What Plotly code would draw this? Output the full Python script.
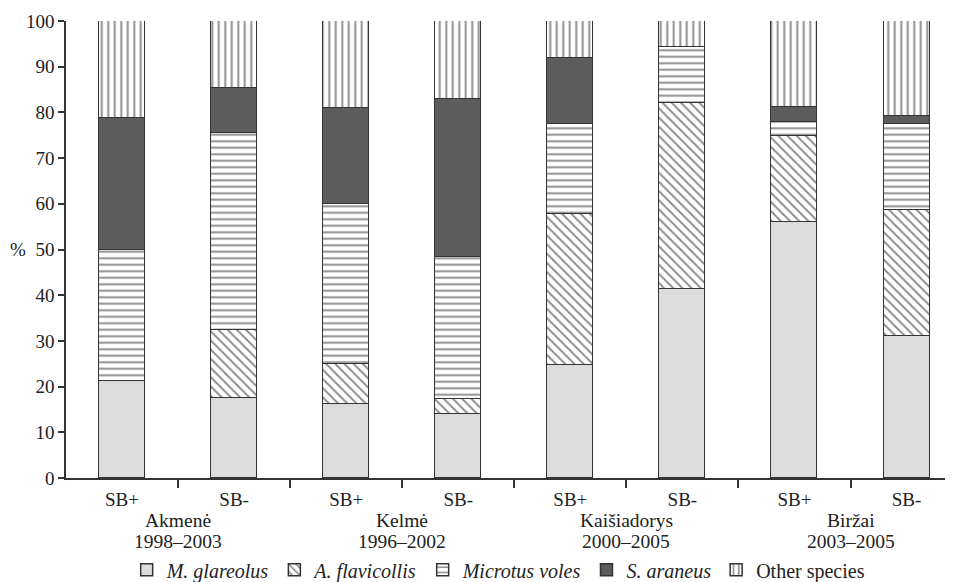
import plotly.graph_objects as go

bar_labels = ["SB+", "SB-", "SB+", "SB-", "SB+", "SB-", "SB+", "SB-"]
region_names = ["Akmenė", "Kelmė", "Kaišiadorys", "Biržai"]
region_years = ["1998–2003", "1996–2002", "2000–2005", "2003–2005"]

m_glareolus   = [21.3, 17.6, 16.1, 13.9, 24.8, 41.4, 56.1, 31.0]
a_flavicollis = [0.0, 14.7, 8.8, 3.4, 32.9, 40.7, 18.8, 27.7]
microtus      = [28.5, 43.2, 35.0, 31.0, 19.7, 12.3, 3.1, 18.7]
s_araneus     = [28.9, 9.8, 21.0, 34.6, 14.4, 0.0, 3.1, 1.8]
other         = [21.3, 14.7, 19.1, 17.1, 8.2, 5.6, 18.9, 20.8]

x = list(range(len(bar_labels)))
FONT = "Liberation Serif"
EDGE = "#333333"
FS = 19

series = [
    ("<i>M. glareolus</i>", m_glareolus, "#dcdcdc", ""),
    ("<i>A. flavicollis</i>", a_flavicollis, "white", "\\"),
    ("<i>Microtus voles</i>", microtus, "white", "-"),
    ("<i>S. araneus</i>", s_araneus, "#5c5c5c", ""),
    ("Other species", other, "white", "|"),
]

fig = go.Figure()
for name, vals, col, shape in series:
    marker = dict(color=col, line=dict(color=EDGE, width=1.5))
    if shape:
        marker["pattern"] = dict(shape=shape, fgcolor="#1a1a1a", bgcolor="white",
                                 size=6.5, solidity=0.3, fillmode="overlay")
    fig.add_trace(go.Bar(x=x, y=vals, name=name, marker=marker, width=0.41))

for i, (nm, yr) in enumerate(zip(region_names, region_years)):
    fig.add_annotation(x=2 * i + 0.5, y=-0.092, xref="x", yref="paper",
                       text=nm, showarrow=False, yanchor="middle",
                       font=dict(family=FONT, size=19.5, color="#222"))
    fig.add_annotation(x=2 * i + 0.5, y=-0.138, xref="x", yref="paper",
                       text=yr, showarrow=False, yanchor="middle",
                       font=dict(family=FONT, size=19.5, color="#222"))

fig.add_annotation(x=-0.054, y=50, xref="paper", yref="y", text="%",
                   showarrow=False, xanchor="center",
                   font=dict(family=FONT, size=FS, color="#222"))

fig.update_layout(
    barmode="stack",
    width=945, height=574,
    margin=dict(l=58, r=5, t=13, b=104, autoexpand=False),
    plot_bgcolor="white", paper_bgcolor="white",
    font=dict(family=FONT, size=FS, color="#222"),
    bargap=0,
    legend=dict(orientation="h", x=0.49, xanchor="center", y=-0.201,
                yanchor="middle", traceorder="normal",
                font=dict(family=FONT, size=20),
                itemwidth=30, tracegroupgap=0),
    xaxis=dict(range=[-0.5, 7.37], tickvals=x, ticktext=bar_labels,
               ticks="", showline=True, linecolor=EDGE, linewidth=1.5,
               showgrid=False, zeroline=False, ticklabelstandoff=3,
               tickfont=dict(family=FONT, size=FS),
               minor=dict(tickmode="array", tickvals=[i + 0.5 for i in x[:-1]],
                          ticks="outside", ticklen=8, tickcolor=EDGE,
                          tickwidth=1.5, showgrid=False)),
    yaxis=dict(range=[0, 100], tickvals=list(range(0, 101, 10)),
               ticks="outside", ticklen=6, tickcolor=EDGE, tickwidth=1.5,
               showline=True, linecolor=EDGE, linewidth=1.5,
               showgrid=False, zeroline=False,
               tickfont=dict(family=FONT, size=FS)),
)

fig.write_html("out.html")
